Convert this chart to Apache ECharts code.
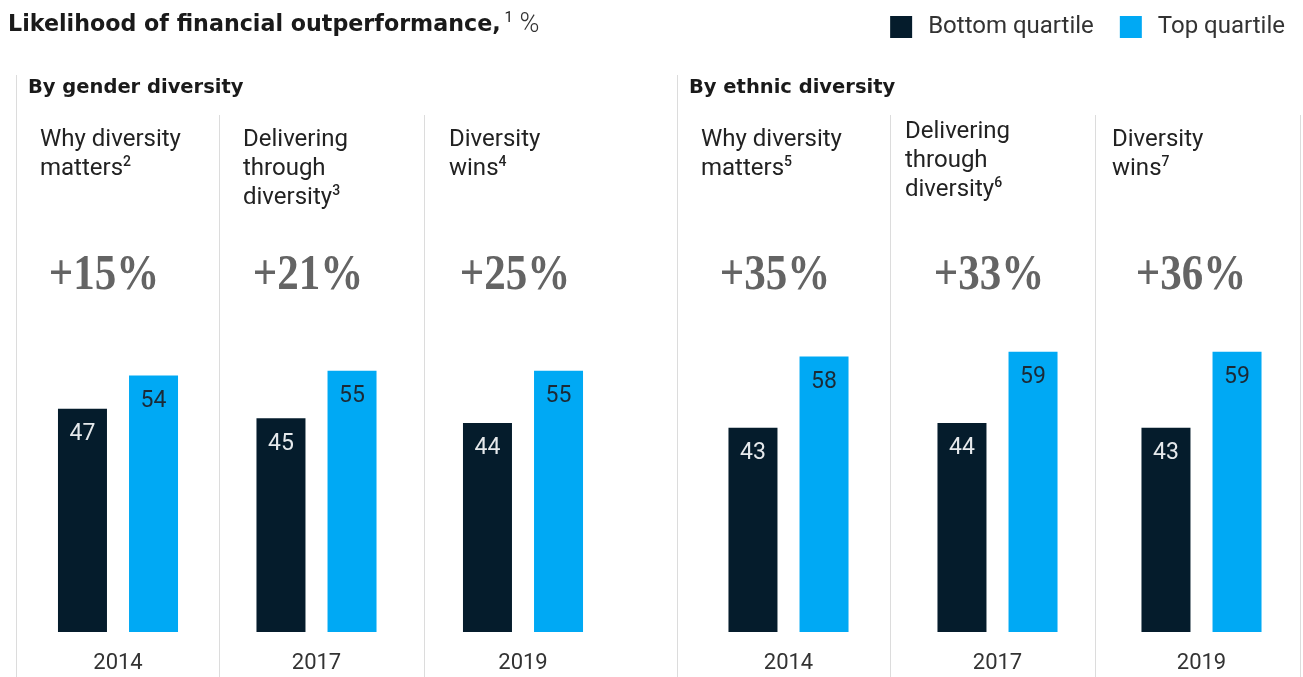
<!DOCTYPE html>
<html>
<head>
<meta charset="utf-8">
<script src="https://cdn.jsdelivr.net/npm/echarts@6/dist/echarts.min.js"></script>
<style>
  html, body { margin: 0; padding: 0; background: #fff; }
  #chart { width: 1303px; height: 677px; }
</style>
</head>
<body>
<div id="chart"></div>
<script>
// Survey waves, left three by gender diversity, right three by ethnic diversity
const chartTitle = 'Likelihood of financial outperformance,';
const titleNote = '1';
const titleUnit = '%';
const groupTitles = ['By gender diversity', 'By ethnic diversity'];
const panelYears = ['2014', '2017', '2019', '2014', '2017', '2019'];
const panelTitles = [
  ['Why diversity', 'matters'],
  ['Delivering', 'through', 'diversity'],
  ['Diversity', 'wins'],
  ['Why diversity', 'matters'],
  ['Delivering', 'through', 'diversity'],
  ['Diversity', 'wins']
];
const panelNotes = ['2', '3', '4', '5', '6', '7'];
const bottomQuartile = [47, 45, 44, 43, 44, 43];
const topQuartile = [54, 55, 55, 58, 59, 59];
const upliftLabels = ['+15%', '+21%', '+25%', '+35%', '+33%', '+36%'];
const seriesNames = ['Bottom quartile', 'Top quartile'];

// Layout (pixels)
const FONT = 'Roboto';
const BOLD = '"DejaVu Sans"';
const DARK = '#051c2c';
const CYAN = '#00a9f4';
const panelCenters = [118, 316.5, 523, 788.5, 997.5, 1201.5];
const panelTextLeft = [40, 243, 449, 701, 905, 1112];
const panelTextTop = [125, 125, 125, 125, 117, 125];
const upliftCenters = [104, 308, 515, 775, 989, 1191];
const groupLines = [16, 677];
const innerLines = [219, 424, 890, 1095, 1300];

const grids = [], xAxes = [], yAxes = [], series = [];
panelYears.forEach((year, i) => {
  grids.push({ left: panelCenters[i] - 90, width: 180, top: 157, bottom: 45 });
  xAxes.push({
    type: 'category', gridIndex: i, data: [year],
    axisLine: { show: false }, axisTick: { show: false },
    axisLabel: { color: '#333', fontFamily: FONT, fontSize: 22, margin: 20 }
  });
  yAxes.push({ type: 'value', gridIndex: i, min: 0, max: 100, show: false });
  series.push({
    type: 'bar', name: seriesNames[0], xAxisIndex: i, yAxisIndex: i,
    data: [bottomQuartile[i]], barWidth: 49, barGap: '45%',
    itemStyle: { color: DARK },
    label: { show: true, position: 'insideTop', distance: 14, color: '#e6e9ec',
             fontFamily: FONT, fontSize: 23 },
    silent: true
  });
  series.push({
    type: 'bar', name: seriesNames[1], xAxisIndex: i, yAxisIndex: i,
    data: [topQuartile[i]], barWidth: 49, barGap: '45%',
    itemStyle: { color: CYAN },
    label: { show: true, position: 'insideTop', distance: 14, color: '#1b2a36',
             fontFamily: FONT, fontSize: 23 },
    silent: true
  });
});

const graphics = [];
// Chart heading with footnote marker and unit
graphics.push({
  type: 'text', silent: true, x: 8, y: 9,
  style: {
    text: '{main|' + chartTitle + '}{sup|' + titleNote + '}{unit| ' + titleUnit + '}',
    rich: {
      main: { fontFamily: BOLD, fontWeight: 'bold', fontSize: 22.2, fill: '#1a1a1a', lineHeight: 32 },
      sup: { fontFamily: FONT, fontSize: 15, fill: '#1a1a1a', lineHeight: 32, verticalAlign: 'top', padding: [2, 0, 0, 4] },
      unit: { fontFamily: FONT, fontWeight: 300, fontSize: 27, fill: '#333', lineHeight: 32 }
    }
  }
});
// Divider rules
groupLines.forEach(x => graphics.push({
  type: 'line', silent: true,
  shape: { x1: x + 0.5, y1: 75, x2: x + 0.5, y2: 677 },
  style: { stroke: '#dcdcdc', lineWidth: 1 }
}));
innerLines.forEach(x => graphics.push({
  type: 'line', silent: true,
  shape: { x1: x + 0.5, y1: 115, x2: x + 0.5, y2: 677 },
  style: { stroke: '#dcdcdc', lineWidth: 1 }
}));
// Group headings
groupTitles.forEach((t, g) => graphics.push({
  type: 'text', silent: true, x: groupLines[g] + 12, y: 88,
  style: { text: t, fill: '#1a1a1a', font: 'bold 19.5px ' + BOLD, textVerticalAlign: 'middle' }
}));
// Study names with footnote markers
panelTitles.forEach((lines, i) => {
  const body = lines.map((l, k) => k === lines.length - 1
    ? '{t|' + l + '}{s|' + panelNotes[i] + '}' : '{t|' + l + '}').join('\n');
  graphics.push({
    type: 'text', silent: true, x: panelTextLeft[i], y: panelTextTop[i],
    style: {
      text: body,
      rich: {
        t: { fontFamily: FONT, fontSize: 24, fill: '#222', lineHeight: 29 },
        s: { fontFamily: FONT, fontWeight: 500, fontSize: 14, fill: '#222', lineHeight: 29, verticalAlign: 'top', padding: [1, 0, 0, 0] }
      }
    }
  });
});
// Uplift of top over bottom quartile
upliftLabels.forEach((t, i) => graphics.push({
  type: 'text', silent: true, x: upliftCenters[i], y: 276, scaleX: 0.86,
  style: { text: t, fill: '#646464', font: 'bold 50px "Liberation Serif"',
           textAlign: 'center', textVerticalAlign: 'middle' }
}));

const chart = echarts.init(document.getElementById('chart'), null, { renderer: 'canvas' });
chart.setOption({
  animation: false,
  backgroundColor: '#fff',
  legend: {
    right: 13, top: 10,
    data: seriesNames,
    icon: 'rect', itemWidth: 22, itemHeight: 22, itemGap: 26,
    selectedMode: false,
    textStyle: { fontFamily: FONT, fontSize: 24, color: '#333', padding: [0, 0, 0, 11] }
  },
  grid: grids,
  xAxis: xAxes,
  yAxis: yAxes,
  series: series,
  graphic: graphics
});
</script>
</body>
</html>
